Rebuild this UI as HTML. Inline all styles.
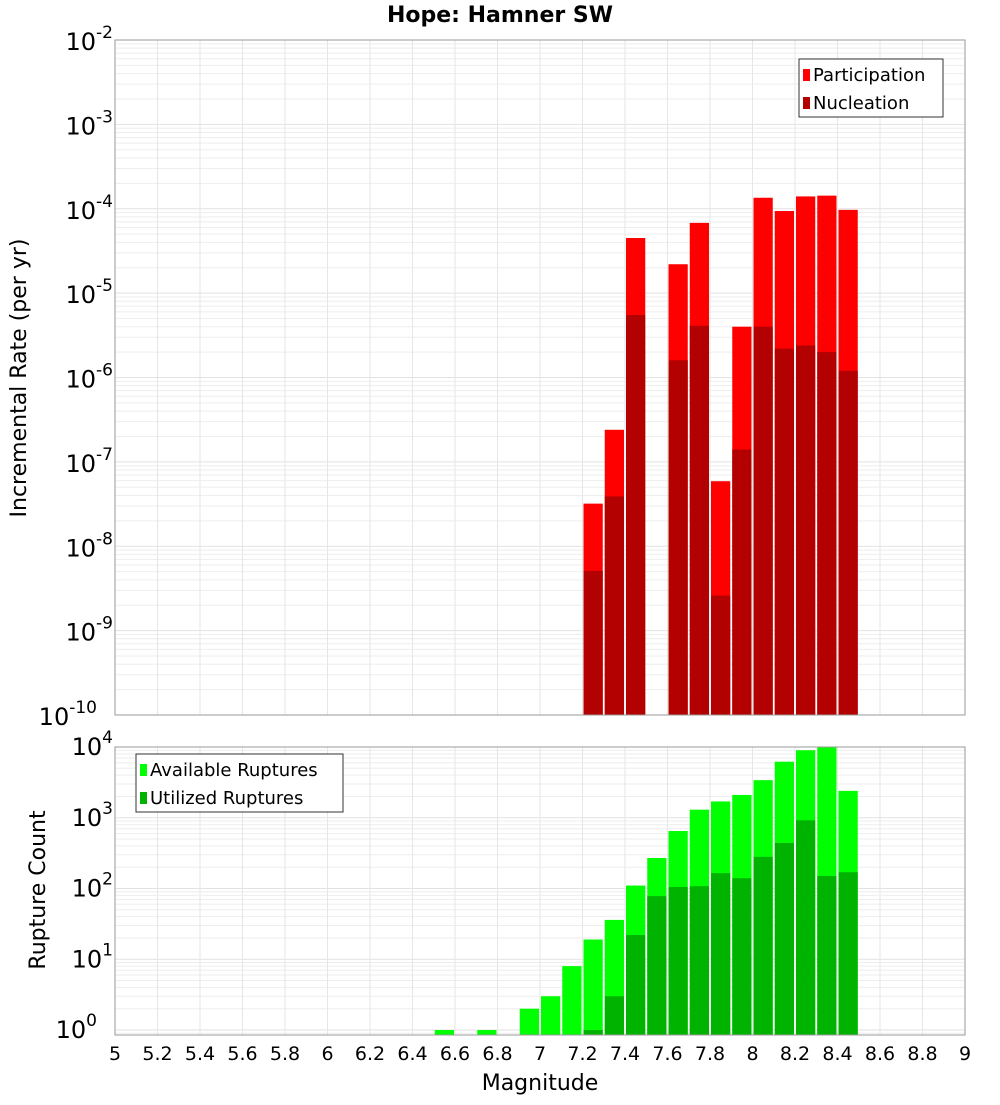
<!DOCTYPE html>
<html><head><meta charset="utf-8"><style>
body{margin:0;background:#fff;font-family:"Liberation Sans","DejaVu Sans",sans-serif}
svg text{font-family:"DejaVu Sans","Liberation Sans",sans-serif}
</style></head><body>
<svg id="c" width="1000" height="1100" xmlns="http://www.w3.org/2000/svg"></svg>
<script>
const mags=[6.55,6.75,6.95,7.05,7.15,7.25,7.35,7.45,7.55,7.65,7.75,7.85,7.95,8.05,8.15,8.25,8.35,8.45];
const participation=[0,0,0,0,0,3.2e-8,2.4e-7,4.5e-5,0,2.2e-5,6.8e-5,5.9e-8,4.0e-6,1.35e-4,9.4e-5,1.4e-4,1.43e-4,9.7e-5];
const nucleation=[0,0,0,0,0,5.1e-9,3.9e-8,5.5e-6,0,1.6e-6,4.1e-6,2.6e-9,1.4e-7,4.0e-6,2.2e-6,2.4e-6,2.0e-6,1.2e-6];
const available=[1,1,2,3,8,19,36,110,270,650,1300,1700,2100,3400,6200,9000,10000,2400];
const utilized=[0,0,0,0,0,1,3,22,78,105,108,165,140,280,440,920,150,170];
const xTicks=["5","5.2","5.4","5.6","5.8","6","6.2","6.4","6.6","6.8","7","7.2","7.4","7.6","7.8","8","8.2","8.4","8.6","8.8","9"];
const topExps=[-10,-9,-8,-7,-6,-5,-4,-3,-2];
const botExps=[0,1,2,3,4];

const svg=document.getElementById('c');const NS='http://www.w3.org/2000/svg';
function el(t,a,p){const e=document.createElementNS(NS,t);for(const k in a)e.setAttribute(k,a[k]);(p||svg).appendChild(e);return e;}
const X0=115,X1=965;
const xs=m=>X0+(m-5)/4*(X1-X0);
const T0=40,T1=715;const yTop=v=>T0+(-2-Math.log10(v))*(T1-T0)/8;
const B0=747,B1=1035;const yBot=v=>1030-Math.log10(v)*70.75;

function panel(y0,y1,exps,ymap,name){
  const g=el('g',{});
  el('rect',{x:X0,y:y0,width:X1-X0,height:y1-y0,fill:'#fff'},g);
  for(const e of exps){for(let k=1;k<10;k++){const y=ymap(k*Math.pow(10,e));if(y<y0||y>y1)continue;el('line',{x1:X0,x2:X1,y1:y,y2:y,stroke:k==1?'#e2e2e2':'#eeeeee','stroke-width':1},g);}}
  for(let m=5;m<=9.001;m+=0.2){const x=xs(m);el('line',{x1:x,x2:x,y1:y0,y2:y1,stroke:'#e6e6e6'},g);}
}
panel(T0,T1,[-10,-9,-8,-7,-6,-5,-4,-3],yTop,'top');
panel(B0,B1,[-1,0,1,2,3,4],yBot,'bottom');

function bars(vals,ymap,bottom,color,name){
  vals.forEach((v,i)=>{if(!v)return;const x=xs(mags[i]-0.05)+1;const w=xs(mags[i]+0.05)-xs(mags[i]-0.05)-2;const y=Math.max(ymap(v),name.startsWith('av')?B0:T0);
  const r=el('rect',{x:x,y:y,width:w,height:bottom-y,fill:color});
  
  });
}
bars(participation,yTop,T1,'#ff0000','participation');
bars(nucleation,yTop,T1,'#b30000','nucleation');
bars(available,yBot,B1,'#00ff00','available');
bars(utilized,yBot,B1,'#00b300','utilized');

el('rect',{x:X0,y:T0,width:X1-X0,height:T1-T0,fill:'none',stroke:'#999'});
el('rect',{x:X0,y:B0,width:X1-X0,height:B1-B0,fill:'none',stroke:'#999'});

function tick(x,y,e,anchorRight){const t=el('text',{x:x,y:y,'font-size':24,fill:'#000','text-anchor':'end'});
  t.textContent='10';const s=el('tspan',{dy:-12,'font-size':17},t);s.textContent=e;
  
  }
topExps.forEach(e=>tick(e==-10?97:113,yTop(Math.pow(10,e))+10,e));
botExps.forEach(e=>tick(e==0?97:113,yBot(Math.pow(10,e))+8,e));
xTicks.forEach(s=>{const t=el('text',{x:xs(+s),y:1060,'font-size':19,'text-anchor':'middle'});t.textContent=s;
  
  });

let t=el('text',{x:500,y:22,'font-size':22,'font-weight':'bold','text-anchor':'middle'});t.textContent='Hope: Hamner SW';


t=el('text',{x:540,y:1090,'font-size':22,'text-anchor':'middle'});t.textContent='Magnitude';


t=el('text',{x:26,y:378,'font-size':22,'text-anchor':'middle',transform:'rotate(-90 26 378)'});t.textContent='Incremental Rate (per yr)';


t=el('text',{x:45,y:890,'font-size':22,'text-anchor':'middle',transform:'rotate(-90 45 890)'});t.textContent='Rupture Count';



function legend(x,y,w,items,name){const g=el('g',{});
  el('rect',{x:x,y:y,width:w,height:58,fill:'#fff',stroke:'#333'},g);
  items.forEach((it,i)=>{el('rect',{x:x+4,y:y+10+i*28,width:7,height:12,fill:it[1]},g);
    const tt=el('text',{x:x+14,y:y+22+i*28,'font-size':18},g);tt.textContent=it[0];});}
legend(799,59,144,[['Participation','#ff0000'],['Nucleation','#b30000']],'top-legend');
legend(136,754,207,[['Available Ruptures','#00ff00'],['Utilized Ruptures','#00b300']],'bottom-legend');
</script>
</body></html>
